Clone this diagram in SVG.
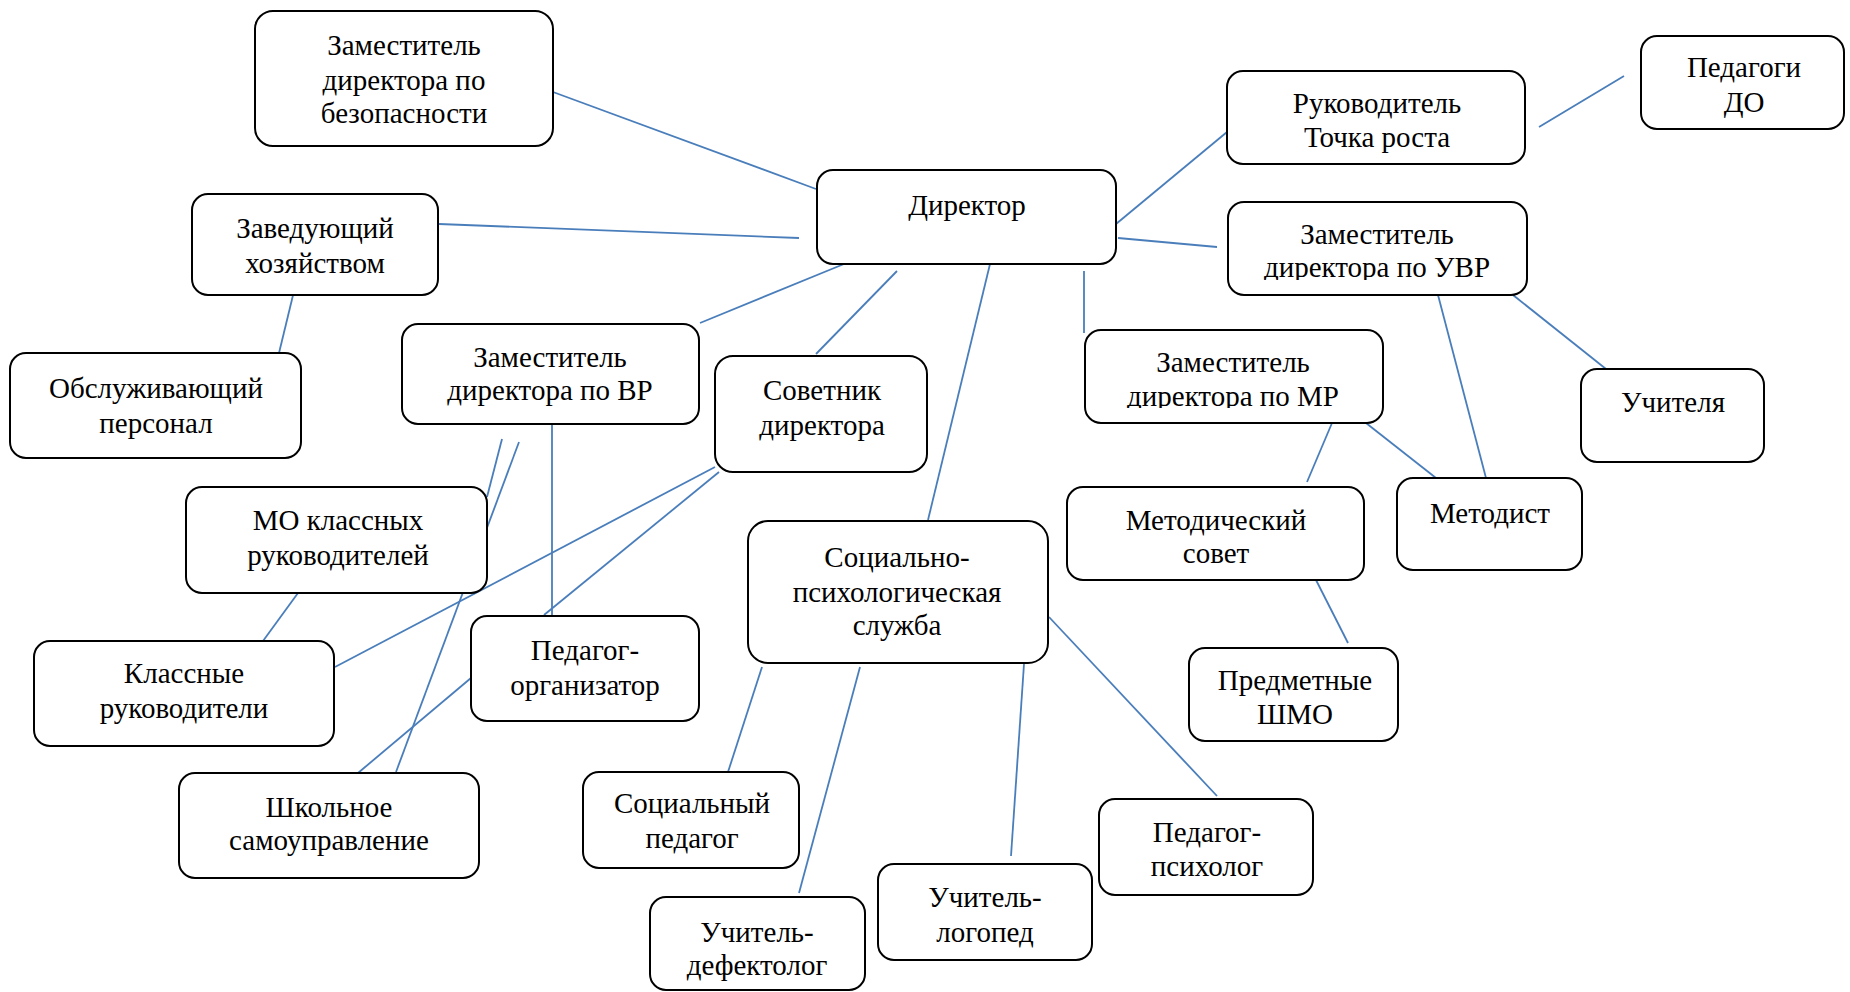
<svg xmlns="http://www.w3.org/2000/svg" width="1850" height="992" viewBox="0 0 1850 992">
<defs>
<style>
.box{fill:#fff;stroke:#000;stroke-width:2}
.t{font-family:"Liberation Serif","Times New Roman",serif;font-size:29px;fill:#000;text-anchor:middle}
.c line{stroke:#4A7EBB;stroke-width:1.8}
</style>
<clipPath id="clipUVR"><rect x="1228" y="200" width="300" height="80"/></clipPath>
<clipPath id="clipMR"><rect x="1085" y="328" width="300" height="80"/></clipPath>
</defs>
<rect width="1850" height="992" fill="#fff"/>
<g id="connectors" class="c">
<line x1="553" y1="92" x2="816" y2="189"/>
<line x1="439" y1="224" x2="799" y2="238"/>
<line x1="295" y1="287" x2="279" y2="353"/>
<line x1="1116" y1="224" x2="1227" y2="132"/>
<line x1="1118" y1="238" x2="1217" y2="247"/>
<line x1="844" y1="264" x2="700" y2="323"/>
<line x1="897" y1="271" x2="816" y2="354"/>
<line x1="990" y1="264" x2="928" y2="520"/>
<line x1="1084" y1="271" x2="1084" y2="333"/>
<line x1="1539" y1="127" x2="1624" y2="76"/>
<line x1="1513" y1="295" x2="1606" y2="369"/>
<line x1="1438" y1="295" x2="1486" y2="478"/>
<line x1="1332" y1="423" x2="1307" y2="482"/>
<line x1="1366" y1="423" x2="1436" y2="478"/>
<line x1="1316" y1="580" x2="1348" y2="643"/>
<line x1="502" y1="439" x2="487" y2="497"/>
<line x1="519" y1="442" x2="396" y2="772"/>
<line x1="552" y1="424" x2="552" y2="616"/>
<line x1="715" y1="467" x2="335" y2="667"/>
<line x1="719" y1="472" x2="544" y2="615"/>
<line x1="298" y1="593" x2="263" y2="641"/>
<line x1="471" y1="678" x2="358" y2="773"/>
<line x1="762" y1="667" x2="728" y2="772"/>
<line x1="860" y1="667" x2="799" y2="893"/>
<line x1="1049" y1="617" x2="1217" y2="796"/>
<line x1="1024" y1="664" x2="1011" y2="856"/>
</g>
<g id="n-bez"><rect class="box" x="255" y="11" width="298" height="135" rx="18"/><text class="t" x="404" y="55">Заместитель</text><text class="t" x="404" y="90">директора по</text><text class="t" x="404" y="123">безопасности</text></g>
<g id="n-zav"><rect class="box" x="192" y="194" width="246" height="101" rx="16"/><text class="t" x="315" y="238">Заведующий</text><text class="t" x="315" y="273">хозяйством</text></g>
<g id="n-obsl"><rect class="box" x="10" y="353" width="291" height="105" rx="16"/><text class="t" x="156" y="398">Обслуживающий</text><text class="t" x="156" y="433">персонал</text></g>
<g id="n-dir"><rect class="box" x="817" y="170" width="299" height="94" rx="16"/><text class="t" x="967" y="215">Директор</text></g>
<g id="n-rukov"><rect class="box" x="1227" y="71" width="298" height="93" rx="16"/><text class="t" x="1377" y="113">Руководитель</text><text class="t" x="1377" y="147">Точка роста</text></g>
<g id="n-pedDO"><rect class="box" x="1641" y="36" width="203" height="93" rx="16"/><text class="t" x="1744" y="77">Педагоги</text><text class="t" x="1744" y="112">ДО</text></g>
<g id="n-uvr"><rect class="box" x="1228" y="202" width="299" height="93" rx="16"/><text class="t" x="1377" y="244">Заместитель</text><text class="t" x="1377" y="277" clip-path="url(#clipUVR)">директора по УВР</text></g>
<g id="n-uchitelya"><rect class="box" x="1581" y="369" width="183" height="93" rx="16"/><text class="t" x="1673" y="412">Учителя</text></g>
<g id="n-mr"><rect class="box" x="1085" y="330" width="298" height="93" rx="16"/><text class="t" x="1233" y="372">Заместитель</text><text class="t" x="1233" y="406" clip-path="url(#clipMR)">директора по МР</text></g>
<g id="n-metodist"><rect class="box" x="1397" y="478" width="185" height="92" rx="16"/><text class="t" x="1490" y="523">Методист</text></g>
<g id="n-metsovet"><rect class="box" x="1067" y="487" width="297" height="93" rx="16"/><text class="t" x="1216" y="530">Методический</text><text class="t" x="1216" y="563">совет</text></g>
<g id="n-predm"><rect class="box" x="1189" y="648" width="209" height="93" rx="16"/><text class="t" x="1295" y="690">Предметные</text><text class="t" x="1295" y="724">ШМО</text></g>
<g id="n-vr"><rect class="box" x="402" y="324" width="297" height="100" rx="16"/><text class="t" x="550" y="367">Заместитель</text><text class="t" x="550" y="400">директора по ВР</text></g>
<g id="n-sovetnik"><rect class="box" x="715" y="356" width="212" height="116" rx="18"/><text class="t" x="822" y="400">Советник</text><text class="t" x="822" y="435">директора</text></g>
<g id="n-mo"><rect class="box" x="186" y="487" width="301" height="106" rx="16"/><text class="t" x="338" y="530">МО классных</text><text class="t" x="338" y="565">руководителей</text></g>
<g id="n-klass"><rect class="box" x="34" y="641" width="300" height="105" rx="16"/><text class="t" x="184" y="683">Классные</text><text class="t" x="184" y="718">руководители</text></g>
<g id="n-pedorg"><rect class="box" x="471" y="616" width="228" height="105" rx="16"/><text class="t" x="585" y="660">Педагог-</text><text class="t" x="585" y="695">организатор</text></g>
<g id="n-shkol"><rect class="box" x="179" y="773" width="300" height="105" rx="16"/><text class="t" x="329" y="817">Школьное</text><text class="t" x="329" y="850">самоуправление</text></g>
<g id="n-socpsy"><rect class="box" x="748" y="521" width="300" height="142" rx="20"/><text class="t" x="897" y="567">Социально-</text><text class="t" x="897" y="602">психологическая</text><text class="t" x="897" y="635">служба</text></g>
<g id="n-socped"><rect class="box" x="583" y="772" width="216" height="96" rx="16"/><text class="t" x="692" y="813">Социальный</text><text class="t" x="692" y="848">педагог</text></g>
<g id="n-defekt"><rect class="box" x="650" y="897" width="215" height="93" rx="16"/><text class="t" x="757" y="942">Учитель-</text><text class="t" x="757" y="975">дефектолог</text></g>
<g id="n-logoped"><rect class="box" x="878" y="864" width="214" height="96" rx="16"/><text class="t" x="985" y="907">Учитель-</text><text class="t" x="985" y="942">логопед</text></g>
<g id="n-pedpsy"><rect class="box" x="1099" y="799" width="214" height="96" rx="16"/><text class="t" x="1207" y="842">Педагог-</text><text class="t" x="1207" y="876">психолог</text></g>
</svg>
